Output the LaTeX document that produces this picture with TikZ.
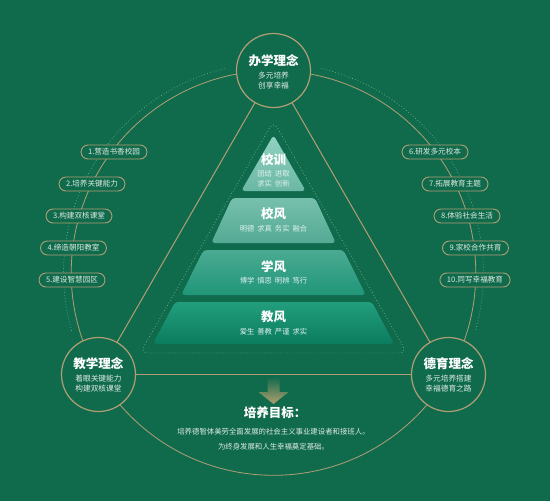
\documentclass[tikz,border=0pt]{standalone}
\usepackage{fontspec}
\setmainfont{Noto Sans CJK SC}
\definecolor{bg}{RGB}{16,107,77}
\definecolor{gold}{RGB}{178,158,116}
\definecolor{softw}{RGB}{222,234,226}
\definecolor{dotg}{RGB}{110,170,138}
\definecolor{arrowg}{RGB}{176,158,110}
\tikzset{
  circ/.style={circle, draw=gold, line width=1.2pt, fill=bg, minimum size=74pt, inner sep=0pt},
  ctitle/.style={text=white, font=\bfseries\fontsize{12.5}{14}\selectfont, inner sep=0pt},
  csub/.style={text=softw, font=\fontsize{7.7}{10.5}\selectfont, align=center, inner sep=0pt},
  tag/.style={rectangle, rounded corners=7pt, draw=gold, line width=0.9pt, fill=bg, text=softw,
    font=\fontsize{7.6}{8}\selectfont, minimum height=14pt, inner xsep=7pt, inner ysep=0pt},
  ptitle/.style={text=white, font=\bfseries\fontsize{12.5}{13}\selectfont, inner sep=0pt},
  psub/.style={text=white!88!teal, font=\fontsize{7.3}{10}\selectfont, align=center, inner sep=0pt},
  goldline/.style={draw=gold, line width=1pt},
  dotc/.style={draw=dotg, line width=0.7pt, dash pattern=on 0.7pt off 2.3pt},
}
\newcommand{\gp}{\hspace{3pt}}
\begin{document}
\begin{tikzpicture}[x=1pt,y=-1pt]
\fill[bg] (0,0) rectangle (550,501);
\useasboundingbox (0,0) rectangle (550,501);

% big circle and dotted outer arcs
\draw[draw=gold, line width=0.8pt] (273.5,273) circle[radius=202.3pt];
\draw[dotc] plot[domain=164:257,samples=90] ({273.5+210*cos(\x)},{273+210*sin(\x)});
\draw[dotc] plot[domain=-77:16,samples=90] ({273.5+210*cos(\x)},{273+210*sin(\x)});

% dotted triangle around pyramid
\draw[dotc, line width=0.8pt, rounded corners=8pt] (273.5,353) -- (407,353) -- (273.5,121) -- (140,353) -- cycle;

% pyramid layers
\shade[top color={rgb,255:red,146;green,210;blue,194}, bottom color={rgb,255:red,106;green,184;blue,164}, rounded corners=3.5pt]
  (273.5,135) -- (305.8,191) -- (241.2,191) -- cycle;
\shade[top color={rgb,255:red,118;green,192;blue,173}, bottom color={rgb,255:red,84;green,170;blue,148}, rounded corners=3.5pt]
  (232,198) -- (315,198) -- (335.8,243) -- (211.2,243) -- cycle;
\shade[top color={rgb,255:red,74;green,170;blue,146}, bottom color={rgb,255:red,32;green,150;blue,120}, rounded corners=3.5pt]
  (203.5,250) -- (343.5,250) -- (365.8,295) -- (181.2,295) -- cycle;
\shade[top color={rgb,255:red,34;green,158;blue,125}, bottom color={rgb,255:red,11;green,124;blue,94}, rounded corners=3.5pt]
  (175,302) -- (372,302) -- (394.1,344) -- (152.9,344) -- cycle;

\node[ptitle] (l1t) at (273.5,160) {校训};
\node[psub]   (l1s) at (273.5,178.5) {团结\gp 进取\\求实\gp 创新};
\node[ptitle] (l2t) at (273.5,214) {校风};
\node[psub]   (l2s) at (273.5,229) {明德\gp 求真\gp 务实\gp 融合};
\node[ptitle] (l3t) at (273.5,267) {学风};
\node[psub]   (l3s) at (273.5,281) {博学\gp 慎思\gp 明辨\gp 笃行};
\node[ptitle] (l4t) at (273.5,317) {教风};
\node[psub]   (l4s) at (273.5,332) {爱生\gp 善教\gp 严谨\gp 求实};

% three circles
\node[circ] (top) at (273.5,70.5) {};
\node[circ] (lft) at (98.5,374.5) {};
\node[circ] (rgt) at (448.5,374.5) {};
\draw[goldline] (top) -- (lft);
\draw[goldline] (top) -- (rgt);
\draw[goldline] (lft) -- (rgt);

\node[ctitle] (topT) at (273.5,60.5) {办学理念};
\node[csub]   (topS) at (273.5,80.5) {多元培养\\创享幸福};
\node[ctitle] (lftT) at (98.5,363.5) {教学理念};
\node[csub]   (lftS) at (98.5,383.5) {着眼关键能力\\构建双核课堂};
\node[ctitle] (rgtT) at (448.5,363.5) {德育理念};
\node[csub]   (rgtS) at (448.5,383.5) {多元培养搭建\\幸福德育之路};

% tags
\node[tag] (b1) at (114,152) {1.营造书香校园};
\node[tag] (b2) at (92,184) {2.培养关键能力};
\node[tag] (b3) at (79,216) {3.构建双核课堂};
\node[tag] (b4) at (73.5,248) {4.缔造朝阳教室};
\node[tag] (b5) at (72,280) {5.建设智慧园区};
\node[tag] (b6) at (435,152) {6.研发多元校本};
\node[tag] (b7) at (455,184) {7.拓展教育主题};
\node[tag] (b8) at (467,216) {8.体验社会生活};
\node[tag] (b9) at (475.5,248) {9.家校合作共育};
\node[tag] (b10) at (475,280) {10.同写幸福教育};

% arrow
\shade[top color=bg, middle color=arrowg!70!bg, bottom color=arrowg]
  (267.5,377) -- (279.5,377) -- (279.5,392) -- (288.5,392) -- (273.5,404) -- (258.5,392) -- (267.5,392) -- cycle;

\node[ctitle, font=\bfseries\fontsize{12.5}{14}\selectfont] (goal) at (275,413) {培养目标：};
\node[csub, font=\fontsize{7.4}{15}\selectfont] (goalS) at (273.5,439.5) {培养德智体美劳全面发展的社会主义事业建设者和接班人。\\为终身发展和人生幸福奠定基础。};
\end{tikzpicture}
\end{document}
